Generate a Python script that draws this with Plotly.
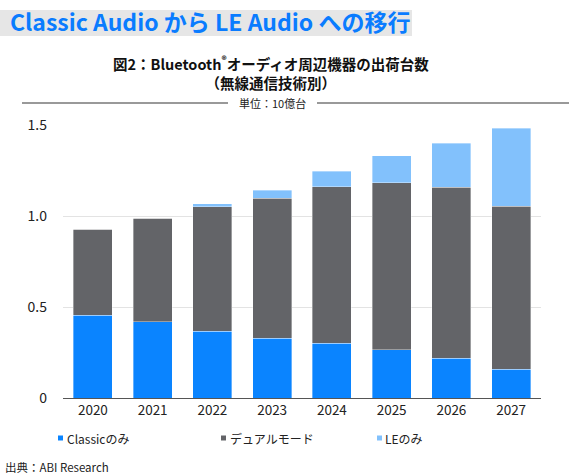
import plotly.graph_objects as go

years = ["2020", "2021", "2022", "2023", "2024", "2025", "2026", "2027"]
classic_only = [0.455, 0.418, 0.366, 0.327, 0.302, 0.264, 0.218, 0.158]
dual_mode = [0.472, 0.569, 0.684, 0.771, 0.860, 0.920, 0.940, 0.895]
le_only = [0.0, 0.0, 0.018, 0.044, 0.083, 0.148, 0.243, 0.429]
series_names = ["Classicのみ", "デュアルモード", "LEのみ"]
y_ticks = [0, 0.5, 1.0, 1.5]
y_tick_labels = ["0", "0.5", "1.0", "1.5"]

W, H = 569, 476
L, R, T, B = 63, 28, 125, 78
FONT = "Noto Sans CJK JP"

def px(x):
    return (x - L) / (W - L - R)

def py(y):
    return (H - B - y) / (H - T - B)

fig = go.Figure()
colors = ["#0A84FF", "#636468", "#82C1FC"]
for name, vals, c in zip(series_names, [classic_only, dual_mode, le_only], colors):
    fig.add_trace(go.Bar(
        x=years, y=vals, name=name,
        marker=dict(color=c, line=dict(color="rgba(255,255,255,0.6)", width=0.6)),
    ))

# manual legend (small squares + labels)
legend_pos = [(58, 65), (221, 228), (377, 383)]
shapes = [
    dict(type="rect", xref="paper", yref="paper", x0=px(0), x1=px(412), y0=py(36), y1=py(10),
         fillcolor="#E6E6E6", line=dict(width=0), layer="below"),
    dict(type="line", xref="paper", yref="paper", x0=px(22), x1=px(228), y0=py(103), y1=py(103),
         line=dict(color="#777777", width=1.5)),
    dict(type="line", xref="paper", yref="paper", x0=px(317), x1=px(569), y0=py(103), y1=py(103),
         line=dict(color="#777777", width=1.5)),
]
annotations = [
    dict(text="<b>Classic Audio から LE Audio への移行</b>", xref="paper", yref="paper",
         x=px(8), y=py(21), xanchor="left", yanchor="middle", showarrow=False,
         font=dict(size=23, color="#0A7CFF", family=FONT, weight=900)),
    dict(text="<b>図2：Bluetooth<sup>®</sup>オーディオ周辺機器の出荷台数</b><br><b>（無線通信技術別）</b>",
         xref="paper", yref="paper", align="center",
         x=px(271), y=py(72.5), xanchor="center", yanchor="middle", showarrow=False,
         font=dict(size=14.5, color="#111111", family=FONT)),
    dict(text="単位：10億台", xref="paper", yref="paper",
         x=px(272), y=py(103), xanchor="center", yanchor="middle", showarrow=False,
         font=dict(size=11, color="#222222", family=FONT)),
    dict(text="出典：ABI Research", xref="paper", yref="paper",
         x=px(3), y=py(467), xanchor="left", yanchor="middle", showarrow=False,
         font=dict(size=11.5, color="#222222", family=FONT)),
]
for (sx, tx), name, c in zip(legend_pos, series_names, colors):
    shapes.append(dict(type="rect", xref="paper", yref="paper", x0=px(sx), x1=px(sx + 5),
                       y0=py(440.5), y1=py(435.5), fillcolor=c, line=dict(width=0)))
    annotations.append(dict(text=name, xref="paper", yref="paper", x=px(tx), y=py(438),
                            xanchor="left", yanchor="middle", showarrow=False,
                            font=dict(size=12, color="#222222", family=FONT)))

fig.update_layout(
    width=W, height=H,
    barmode="stack", bargap=0.35,
    paper_bgcolor="white", plot_bgcolor="white",
    margin=dict(l=L, r=R, t=T, b=B, autoexpand=False),
    font=dict(family=FONT, color="#222222", size=13),
    xaxis=dict(showgrid=False, showline=True, linecolor="#555555", linewidth=1.2,
               ticks="", tickfont=dict(size=13.5, color="#222222")),
    yaxis=dict(range=[0, 1.5], tickvals=y_ticks, ticktext=y_tick_labels,
               showgrid=True, gridcolor="#E3E3E3", gridwidth=1.2, zeroline=False,
               showline=False, ticks="", ticklabelstandoff=15,
               tickfont=dict(size=14, color="#222222")),
    showlegend=False,
    shapes=shapes,
    annotations=annotations,
)

fig.write_html("out.html", config={"displayModeBar": False},
               post_script="document.body.style.margin='0';")
